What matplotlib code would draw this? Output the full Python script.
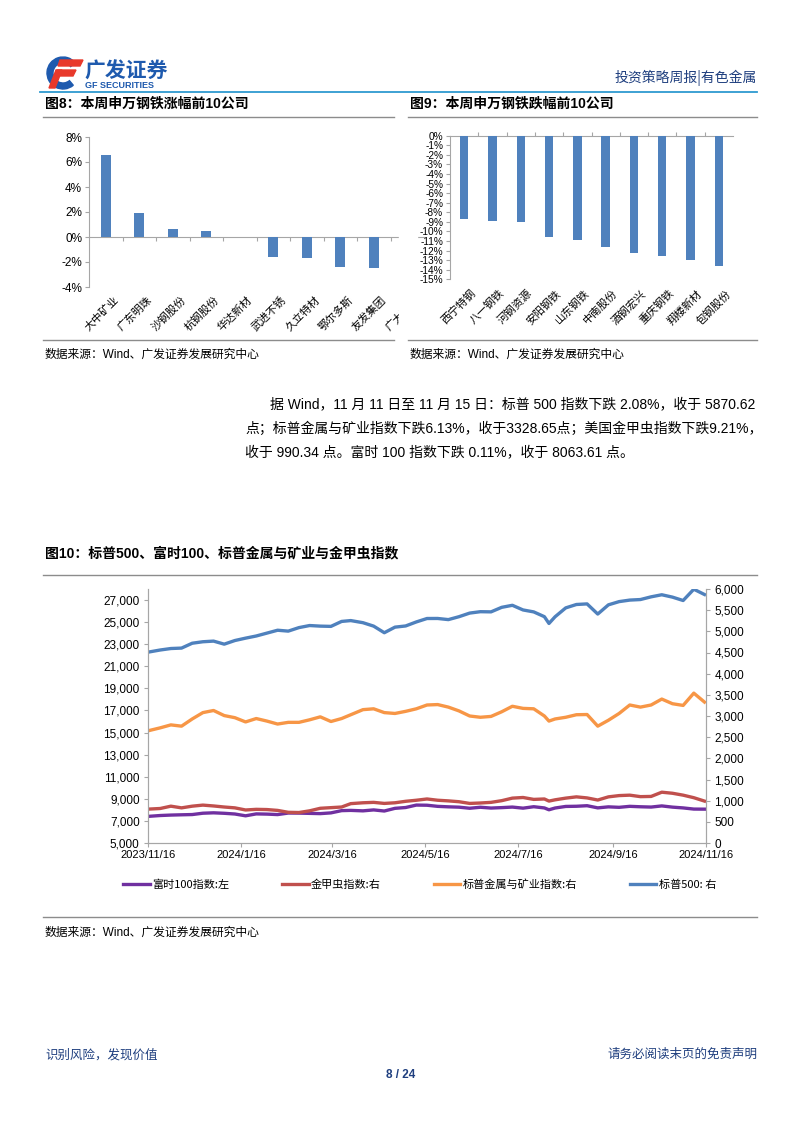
import numpy as np
import pandas as pd
import matplotlib
matplotlib.use('Agg')
import matplotlib.pyplot as plt
from matplotlib.patches import Rectangle, Polygon, Wedge
from matplotlib.transforms import blended_transform_factory
from matplotlib.ticker import FuncFormatter

plt.rcParams['font.family'] = ['Liberation Sans', 'Noto Sans CJK SC', 'DejaVu Sans']

W, H = 802, 1133

# ---- 图8 / 图9 data (weekly % change) ----
up_names = ['大中矿业', '广东明珠', '沙钢股份', '杭钢股份', '华达新材',
            '武进不锈', '久立特材', '鄂尔多斯', '友发集团', '广大特材']
up_pct = [6.53, 1.92, 0.64, 0.47, 0.02, -1.57, -1.65, -2.37, -2.48, -2.6]

down_names = ['西宁特钢', '八一钢铁', '河钢资源', '安阳钢铁', '山东钢铁',
              '中南股份', '酒钢宏兴', '重庆钢铁', '翔楼新材', '包钢股份']
down_pct = [-8.75, -8.95, -9.05, -10.55, -10.85, -11.6, -12.25, -12.6, -12.95, -13.65]

# ---- 图10 data (weekly readings) ----
dates = ['2023-11-16', '2023-11-24', '2023-12-01', '2023-12-08', '2023-12-15', '2023-12-22',
         '2023-12-29', '2024-01-05', '2024-01-12', '2024-01-19', '2024-01-26', '2024-02-02',
         '2024-02-09', '2024-02-16', '2024-02-23', '2024-03-01', '2024-03-08', '2024-03-15',
         '2024-03-22', '2024-03-28', '2024-04-05', '2024-04-12', '2024-04-19', '2024-04-26',
         '2024-05-03', '2024-05-10', '2024-05-17', '2024-05-24', '2024-05-31', '2024-06-07',
         '2024-06-14', '2024-06-21', '2024-06-28', '2024-07-05', '2024-07-12', '2024-07-19',
         '2024-07-26', '2024-08-02', '2024-08-05', '2024-08-09', '2024-08-16', '2024-08-23',
         '2024-08-30', '2024-09-06', '2024-09-13', '2024-09-20', '2024-09-27', '2024-10-04',
         '2024-10-11', '2024-10-18', '2024-10-25', '2024-11-01', '2024-11-08', '2024-11-15']

ftse100 = [7410, 7488, 7529, 7554, 7576, 7697, 7733, 7690, 7625, 7462, 7635, 7616,
           7573, 7712, 7706, 7683, 7660, 7727, 7931, 7953, 7911, 7996, 7896, 8139,
           8213, 8434, 8420, 8318, 8275, 8245, 8146, 8237, 8164, 8204, 8253, 8155,
           8285, 8175, 8008, 8168, 8311, 8327, 8377, 8181, 8273, 8230, 8320, 8281,
           8254, 8358, 8248, 8177, 8072, 8064]

gold_bugs = [800, 815, 870, 830, 870, 895, 875, 850, 830, 780, 795, 790,
             770, 725, 720, 760, 820, 835, 850, 930, 950, 960, 935, 950,
             985, 1010, 1040, 1010, 995, 975, 935, 945, 960, 1000, 1060, 1075,
             1030, 1040, 990, 1020, 1060, 1090, 1065, 1015, 1090, 1120, 1130, 1095,
             1100, 1200, 1175, 1130, 1070, 990]

metals_mining = [2650, 2720, 2790, 2760, 2930, 3080, 3130, 3010, 2960, 2860, 2940, 2880,
                 2810, 2850, 2850, 2910, 2980, 2870, 2940, 3030, 3150, 3170, 3080, 3060,
                 3110, 3170, 3260, 3270, 3210, 3120, 3000, 2970, 2990, 3100, 3230, 3180,
                 3170, 3000, 2880, 2930, 2970, 3030, 3035, 2760, 2900, 3060, 3260, 3210,
                 3260, 3400, 3290, 3250, 3540, 3329]

spx500 = [4508, 4559, 4594, 4604, 4719, 4754, 4769, 4697, 4783, 4839, 4890, 4958,
          5026, 5005, 5088, 5137, 5123, 5117, 5234, 5254, 5204, 5123, 4967, 5099,
          5127, 5222, 5303, 5304, 5277, 5346, 5431, 5464, 5460, 5567, 5615, 5505,
          5459, 5346, 5186, 5344, 5554, 5634, 5648, 5408, 5626, 5702, 5738, 5751,
          5815, 5864, 5808, 5728, 5995, 5870]

tick_dates = ['2023-11-16', '2024-01-16', '2024-03-16', '2024-05-16',
              '2024-07-16', '2024-09-16', '2024-11-16']
tick_labels = ['2023/11/16', '2024/1/16', '2024/3/16', '2024/5/16',
               '2024/7/16', '2024/9/16', '2024/11/16']

BAR = '#4F81BD'
GRAY = '#A6A6A6'
NAVY = '#1F3F7F'


def box(x0, y0, x1, y1):
    return [x0 / W, 1 - y1 / H, (x1 - x0) / W, (y1 - y0) / H]


fig = plt.figure(figsize=(W / 100, H / 100), dpi=100)

# ---------------- 图8 ----------------
ax1 = fig.add_axes(box(89, 137, 424, 287))
x = np.arange(len(up_names))
ax1.bar(x, up_pct, width=0.3, color=BAR, zorder=3)
ax1.set_xlim(-0.5, len(up_names) - 0.5)
ax1.set_ylim(-4, 8)
ax1.set_yticks(np.arange(-4, 9, 2))
ax1.yaxis.set_major_formatter(FuncFormatter(lambda v, p: f'{v:.0f}%'))
for s in ['top', 'right']:
    ax1.spines[s].set_visible(False)
ax1.spines['bottom'].set_position(('data', 0))
for s in ['bottom', 'left']:
    ax1.spines[s].set_color(GRAY)
ax1.set_xticks(np.arange(0.5, len(up_names) - 0.5, 1))
ax1.set_xticklabels([])
ax1.tick_params(axis='x', direction='out', length=3, color=GRAY)
ax1.tick_params(axis='y', direction='out', length=3, color=GRAY, labelsize=8.5, pad=2)
tr1 = blended_transform_factory(ax1.transData, ax1.transAxes)
for i, name in enumerate(up_names):
    ax1.text(i + 0.22, -0.05, name, transform=tr1, rotation=45, rotation_mode='anchor',
             ha='right', va='top', fontsize=7.8, family=['Noto Sans CJK SC'])

# ---------------- 图9 ----------------
ax2 = fig.add_axes(box(450, 135.7, 733, 279.3))
x2 = np.arange(len(down_names))
ax2.bar(x2, down_pct, width=0.3, color=BAR, zorder=3)
ax2.set_xlim(-0.5, len(down_names) - 0.5)
ax2.set_ylim(-15, 0)
ax2.set_yticks(np.arange(-15, 1, 1))
ax2.yaxis.set_major_formatter(FuncFormatter(lambda v, p: f'{v:.0f}%'))
for s in ['bottom', 'right']:
    ax2.spines[s].set_visible(False)
for s in ['top', 'left']:
    ax2.spines[s].set_color(GRAY)
ax2.xaxis.tick_top()
ax2.set_xticks(np.arange(0.5, len(down_names) - 0.5, 1))
ax2.set_xticklabels([])
ax2.tick_params(axis='x', direction='out', length=3, color=GRAY)
ax2.tick_params(axis='y', direction='out', length=3, color=GRAY, labelsize=7.3, pad=2)
tr2 = blended_transform_factory(ax2.transData, ax2.transAxes)
for i, name in enumerate(down_names):
    ax2.text(i + 0.22, -0.06, name, transform=tr2, rotation=45, rotation_mode='anchor',
             ha='right', va='top', fontsize=7.8, family=['Noto Sans CJK SC'])

# ---------------- 图10 ----------------
d = pd.to_datetime(dates)
ax3 = fig.add_axes(box(148, 589, 706, 843))
ax3r = ax3.twinx()
l1, = ax3.plot(d, ftse100, color='#7030A0', lw=2.4, label='富时100指数:左')
l2, = ax3r.plot(d, gold_bugs, color='#C0504D', lw=2.4, label='金甲虫指数:右')
l3, = ax3r.plot(d, metals_mining, color='#F79646', lw=2.4, label='标普金属与矿业指数:右')
l4, = ax3r.plot(d, spx500, color='#4F81BD', lw=2.4, label='标普500: 右')
ax3.set_xlim(pd.Timestamp('2023-11-16'), pd.Timestamp('2024-11-16'))
ax3.set_ylim(5000, 28000)
ax3.set_yticks(np.arange(5000, 27001, 2000))
ax3r.set_ylim(0, 6000)
ax3r.set_yticks(np.arange(0, 6001, 500))
fmt = FuncFormatter(lambda v, p: f'{v:,.0f}')
ax3.yaxis.set_major_formatter(fmt)
ax3r.yaxis.set_major_formatter(fmt)
ax3.set_xticks(pd.to_datetime(tick_dates))
ax3.set_xticklabels(tick_labels)
for a in (ax3, ax3r):
    a.spines['top'].set_visible(False)
    for s in ['bottom', 'left', 'right']:
        a.spines[s].set_color(GRAY)
    a.tick_params(direction='out', length=3, color=GRAY, labelsize=8.5, pad=3)
ax3.tick_params(axis='x', labelsize=8, pad=2)

fig.legend(handles=[l1, l2, l3, l4], loc='lower left', ncol=4, mode='expand',
           bbox_to_anchor=(123 / W, 1 - 890 / H, (716 - 123) / W, 20 / H),
           frameon=False, handlelength=2.4, handletextpad=0.2,
           borderaxespad=0, borderpad=0,
           prop={'family': ['Noto Sans CJK SC'], 'size': 8})

# ---------------- page overlay ----------------
bg = fig.add_axes([0, 0, 1, 1])
bg.set_xlim(0, W)
bg.set_ylim(H, 0)
bg.axis('off')

# clip right edge of 图8
bg.add_patch(Rectangle((399, 120), 18, 168, color='white', zorder=5))
bg.add_patch(Rectangle((399, 288), 30, 50, color='white', zorder=5))

# logo
bg.add_patch(Wedge((63, 73), 16, 50, 320, width=6, color='#1E5AAE'))
bg.add_patch(Polygon([[60, 60], [83, 60], [80, 66], [58, 66]], closed=True, color='#E8392B'))
bg.add_patch(Polygon([[57, 70], [76, 70], [73, 76], [55, 76]], closed=True, color='#E8392B'))
bg.add_patch(Polygon([[56, 70], [62, 70], [55, 88], [49, 88]], closed=True, color='#E8392B'))
bg.text(84, 71, '广发证券', fontsize=15, fontweight='bold', color='#1E5AAE',
        va='center', ha='left', family=['Noto Sans CJK SC'])
bg.text(85, 86, 'GF SECURITIES', fontsize=6.5, fontweight='bold', color='#1E5AAE',
        va='center', ha='left')
bg.text(757, 78, '投资策略周报|有色金属', fontsize=10, color=NAVY, va='center', ha='right',
        family=['Noto Sans CJK SC'])
bg.plot([40, 757], [92, 92], color='#2E9AD0', lw=1.3)

# titles and rules
bg.text(45, 104, '图8：本周申万钢铁涨幅前10公司', fontsize=10, fontweight='bold', va='center')
bg.text(410, 104, '图9：本周申万钢铁跌幅前10公司', fontsize=10, fontweight='bold', va='center')
for x0, x1 in [(43, 394), (408, 757)]:
    bg.plot([x0, x1], [117, 117], color='#8C8C8C', lw=1.0)
    bg.plot([x0, x1], [340, 340], color='#8C8C8C', lw=1.0)
bg.text(45, 355, '数据来源：Wind、广发证券发展研究中心', fontsize=8.5, va='center')
bg.text(410, 355, '数据来源：Wind、广发证券发展研究中心', fontsize=8.5, va='center')

# paragraph
bg.text(270, 404, '据 Wind，11 月 11 日至 11 月 15 日：标普 500 指数下跌 2.08%，收于 5870.62',
        fontsize=10, va='center', ha='left')
bg.text(245, 429, '点；标普金属与矿业指数下跌6.13%，收于3328.65点；美国金甲虫指数下跌9.21%，',
        fontsize=10, va='center', ha='left')
bg.text(245, 452, '收于 990.34 点。富时 100 指数下跌 0.11%，收于 8063.61 点。',
        fontsize=10, va='center', ha='left')

bg.text(45, 553, '图10：标普500、富时100、标普金属与矿业与金甲虫指数', fontsize=10,
        fontweight='bold', va='center')
bg.plot([43, 757], [575, 575], color='#8C8C8C', lw=1.0)
bg.plot([43, 757], [917, 917], color='#8C8C8C', lw=1.0)
bg.text(45, 933, '数据来源：Wind、广发证券发展研究中心', fontsize=8.5, va='center')

# footer
bg.text(45, 1055, '识别风险，发现价值', fontsize=9, color=NAVY, va='center')
bg.text(757, 1055, '请务必阅读末页的免责声明', fontsize=9, color=NAVY, va='center', ha='right')
bg.text(401, 1075, '8 / 24', fontsize=8.5, fontweight='bold', color=NAVY, va='center', ha='center')

fig.savefig('out.png', dpi=100)
